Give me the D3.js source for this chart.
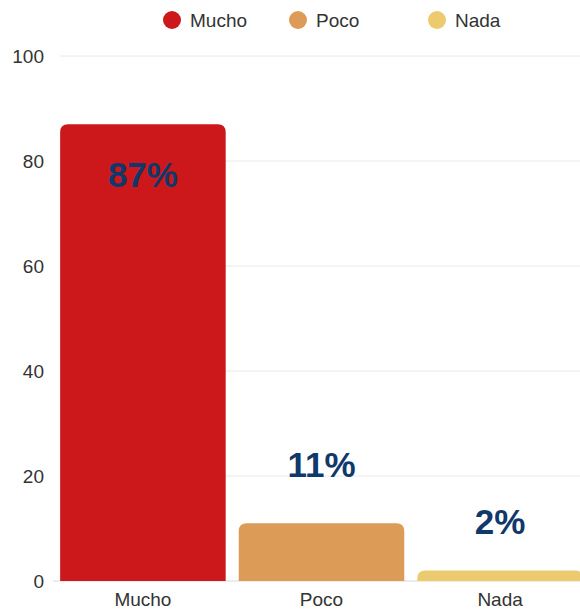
<!DOCTYPE html>
<html><head><meta charset="utf-8">
<script src="https://cdn.jsdelivr.net/npm/d3@7"></script>
<style>body{margin:0;background:#fff}svg{display:block}</style>
</head><body>
<svg id="c" width="580" height="609"></svg>
<script>
const categories = ["Mucho", "Poco", "Nada"];
const values = [87, 11, 2];
const colors = ["#cc181b", "#dc9c57", "#ecca6e"];
const yTicks = [0, 20, 40, 60, 80, 100];

const svg = d3.select("#c");
const FONT = "'Liberation Sans', Arial, Helvetica, sans-serif";
const x = d3.scaleBand().domain(categories).range([53, 590]).paddingInner(0.073).paddingOuter(0.04);
const y = d3.scaleLinear().domain([0, 100]).range([581, 56]);

// gridlines
svg.append("g").selectAll("line").data(yTicks).join("line")
  .attr("x1", d => d === 0 ? 53 : 60).attr("x2", 580)
  .attr("y1", d => y(d)).attr("y2", d => y(d))
  .attr("stroke", d => d === 0 ? "#d9d9d9" : "#e8e8e8").attr("stroke-width", 1);

// y axis labels
const yAxis = d3.axisLeft(y).tickValues(yTicks).tickSize(0).tickPadding(0);
const ya = svg.append("g").attr("transform", "translate(44,0)").call(yAxis);
ya.select(".domain").remove();
ya.selectAll("text").attr("font-family", FONT).attr("font-size", 19).attr("fill", "#333");

// bars with rounded top corners
const r = 8;
function barPath(x0, w, y0, y1) {
  const rr = Math.min(r, (y1 - y0));
  return `M${x0},${y1}V${y0 + rr}Q${x0},${y0} ${x0 + rr},${y0}H${x0 + w - rr}Q${x0 + w},${y0} ${x0 + w},${y0 + rr}V${y1}Z`;
}
svg.append("g").selectAll("path").data(categories).join("path")
  .attr("d", (c, i) => barPath(x(c), x.bandwidth(), y(values[i]), y(0)))
  .attr("fill", (c, i) => colors[i]);

// x axis labels
const xa = svg.append("g").attr("transform", "translate(0,606)").call(d3.axisBottom(x).tickSize(0).tickPadding(0));
xa.select(".domain").remove();
xa.selectAll("text").attr("font-family", FONT).attr("font-size", 19).attr("fill", "#333").attr("dy", "0");

// value labels
svg.append("g").selectAll("text").data(categories).join("text")
  .attr("x", c => x(c) + x.bandwidth() / 2)
  .attr("y", (c, i) => values[i] > 50 ? y(values[i]) + 63 : y(values[i]) - 35 - values[i])
  .attr("text-anchor", "middle")
  .attr("font-family", FONT)
  .attr("font-weight", "bold").attr("font-size", 35)
  .attr("fill", "#10386a")
  .text((c, i) => values[i] + "%");

// legend
const lx = [172, 298, 437];
const lg = svg.append("g").selectAll("g").data(categories).join("g")
  .attr("transform", (c, i) => `translate(${lx[i]},20)`);
lg.append("circle").attr("r", 9).attr("fill", (c, i) => colors[i]);
lg.append("text").attr("x", 18).attr("dy", "0.35em")
  .attr("font-family", FONT).attr("font-size", 19).attr("fill", "#333")
  .text(c => c);
</script>
</body></html>
